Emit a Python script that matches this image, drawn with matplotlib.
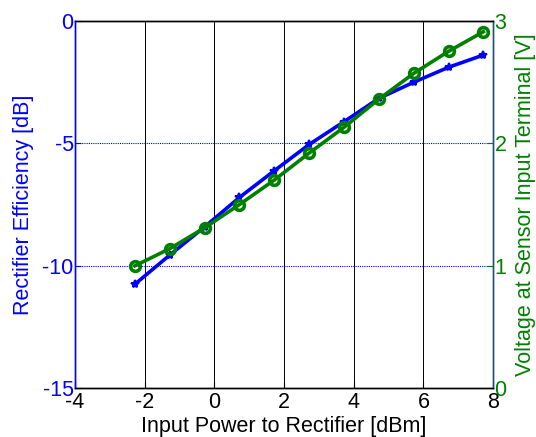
import matplotlib
matplotlib.use('Agg')
import matplotlib.pyplot as plt

plt.rcParams['font.family'] = ['Liberation Sans', 'DejaVu Sans']
plt.rcParams['axes.unicode_minus'] = False

# input power to rectifier [dBm]
p_in = [-2.28, -1.28, -0.28, 0.72, 1.72, 2.72, 3.72, 4.72, 5.72, 6.72, 7.72]
# rectifier efficiency [dB]
eff_db = [-10.75, -9.56, -8.41, -7.21, -6.12, -5.05, -4.12, -3.17, -2.51, -1.90, -1.40]
# voltage at sensor input terminal [V]
volt = [1.00, 1.14, 1.31, 1.50, 1.70, 1.92, 2.13, 2.36, 2.57, 2.75, 2.91]

x_ticks = [-4, -2, 0, 2, 4, 6, 8]
left_ticks = [-15, -10, -5, 0]
right_ticks = [0, 1, 2, 3]

blue = (0, 0, 1)
green = (0, 0.5, 0)
fs = 15.5

fig = plt.figure(figsize=(5.36, 4.37), dpi=100)
ax = fig.add_axes([0.14, 0.1114, 0.78, 0.8412])
ax2 = ax.twinx()

ax.plot(p_in, eff_db, color=blue, lw=2.6, marker='*', ms=6, mew=1.5, zorder=3)
ax2.plot(p_in, volt, color=green, lw=2.6, marker='o', ms=7, mfc='none', mew=2.6, zorder=3)

ax.set_xlim(-4, 8)
ax.set_ylim(-15, 0)
ax2.set_ylim(0, 3)
ax.set_xticks(x_ticks)
ax.set_yticks(left_ticks)
ax2.set_yticks(right_ticks)

# grid: vertical black, horizontal blue dotted
for xv in x_ticks[1:-1]:
    ax.axvline(xv, color='black', lw=0.7, zorder=1)
for yv in left_ticks[1:-1]:
    ax.axhline(yv, color=blue, lw=0.8, ls=(0, (1, 1)), zorder=1)

ax.tick_params(axis='x', direction='in', labelsize=fs, colors='black', length=4, pad=3)
ax.tick_params(axis='y', direction='in', labelsize=fs, colors=blue, length=4, pad=1)
ax2.tick_params(axis='y', direction='in', labelsize=fs, colors=green, length=4, pad=1)

ax.set_xlabel('Input Power to Rectifier [dBm]', fontsize=fs, labelpad=2)
ax.set_ylabel('Rectifier Efficiency [dB]', fontsize=fs, color=blue, labelpad=6)
ax2.set_ylabel('Voltage at Sensor Input Terminal [V]', fontsize=fs, color=green, labelpad=6)

for a in (ax, ax2):
    a.spines['top'].set_color('black')
    a.spines['bottom'].set_color('black')
    a.spines['left'].set_color(blue)
    a.spines['right'].set_color('#20507a')
    for s in a.spines.values():
        s.set_linewidth(1.0)

fig.savefig('out.png', dpi=100)
